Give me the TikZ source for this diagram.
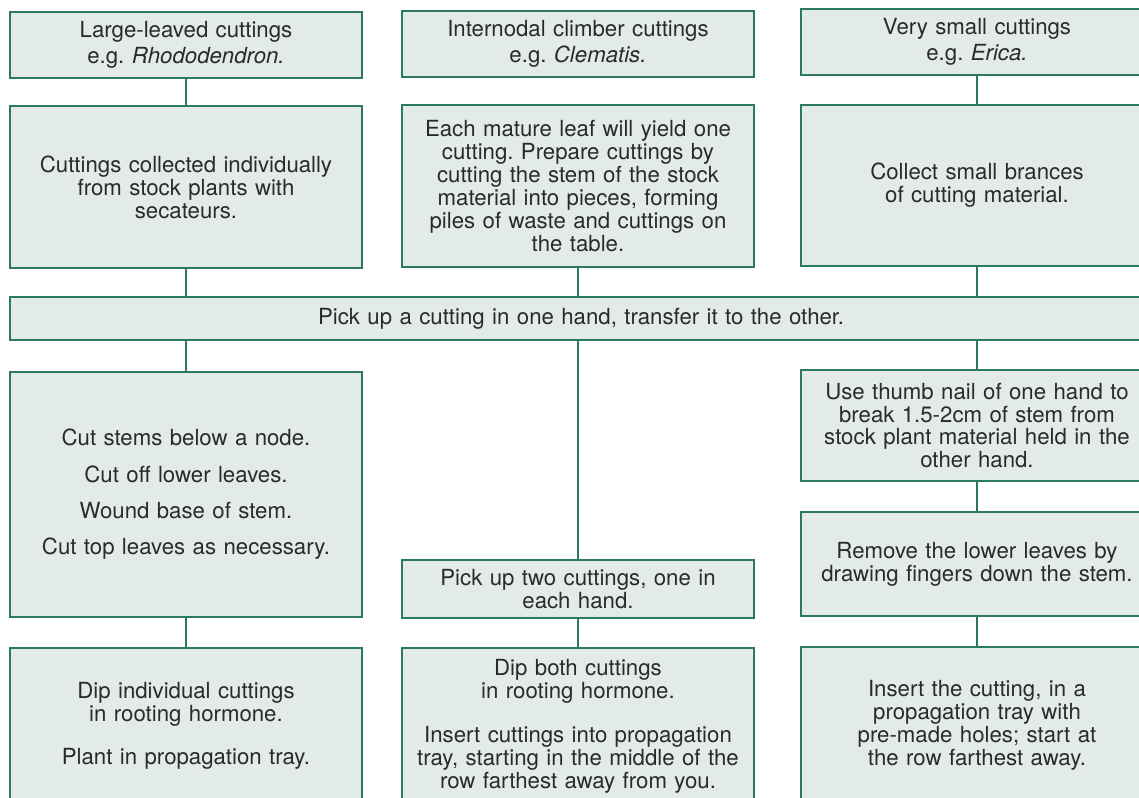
\documentclass[tikz,border=0pt]{standalone}
\usepackage{fontspec}
\setmainfont{TeX Gyre Heros}
\usepackage{tikz}

\definecolor{boxfill}{HTML}{E2EBE8}
\definecolor{boxline}{HTML}{2B7A60}
\definecolor{boxtext}{HTML}{2A2A2A}

\tikzset{
    stage/.style={draw=boxline,fill=boxfill,line width=1pt,minimum width=8.8cm,text width=8.6cm,
        align=center,inner sep=0pt,text=boxtext,font=\fontsize{15.8}{16.3}\selectfont\frenchspacing},
    link/.style={-,draw=boxline,line width=1pt}
}

\begin{document}
\begin{tikzpicture}[x=0.025cm,y=-0.025cm]
        \useasboundingbox (0,0) rectangle (1139,797);
        \clip (0,0) rectangle (1139,797);

        \node[stage,minimum height=1.65cm] (l1) at (186,45) {Large-leaved cuttings\\[2.5pt]e.g. \textit{Rhododendron.}};
        \node[stage,minimum height=4.05cm] (l2) at (186,187) {Cuttings collected individually\\from stock plants with\\secateurs.};
        \node[stage,minimum height=6.125cm] (l3) at (186,494.5) {Cut stems below a node.\\[9.5pt]Cut off lower leaves.\\[9.5pt]Wound base of stem.\\[9.5pt]Cut top leaves as necessary.};
        \node[stage,minimum height=3.9cm] (l4) at (186,726) {Dip individual cuttings\\in rooting hormone.\\[14pt]Plant in propagation tray.};

        \node[stage,minimum height=1.65cm] (m1) at (578,44) {Internodal climber cuttings\\[2.5pt]e.g. \textit{Clematis.}};
        \node[stage,minimum height=4.05cm] (m2) at (578,186) {Each mature leaf will yield one\\cutting. Prepare cuttings by\\cutting the stem of the stock\\material into pieces, forming\\piles of waste and cuttings on\\the table.};
        \node[stage,minimum height=1.45cm] (m3) at (578,589) {Pick up two cuttings, one in\\each hand.};
        \node[stage,minimum height=3.9cm] (m4) at (578,726) {Dip both cuttings\\in rooting hormone.\\[15pt]Insert cuttings into propagation\\tray, starting in the middle of the\\row farthest away from you.};

        \node[stage,minimum height=1.65cm] (s1) at (977,42) {Very small cuttings\\[2.5pt]e.g. \textit{Erica.}};
        \node[stage,minimum height=4.025cm] (s2) at (977,185.5) {Collect small brances\\of cutting material.};
        \node[stage,minimum height=2.775cm] (s3) at (977,425.5) {Use thumb nail of one hand to\\break 1.5-2cm of stem from\\stock plant material held in the\\other hand.};
        \node[stage,minimum height=2.6cm] (s4) at (977,564) {Remove the lower leaves by\\drawing fingers down the stem.};
        \node[stage,minimum height=3.925cm] (s5) at (977,725.5) {Insert the cutting, in a\\propagation tray with\\pre-made holes; start at\\the row farthest away.};

        \node[stage,minimum width=28.55cm,text width=27cm,minimum height=1.075cm] (pick) at (581,318.5) {Pick up a cutting in one hand, transfer it to the other.};

        \path[link] (l1) edge (l2);
        \path[link] (l2) edge (l2 |- pick.north);
        \path[link] (pick.south -| l3) edge (l3);
        \path[link] (l3) edge (l4);

        \path[link] (m2) edge (m2 |- pick.north);
        \path[link] (pick.south -| m3) edge (m3);
        \path[link] (m3) edge (m4);

        \path[link] (s1) edge (s2);
        \path[link] (s2) edge (s2 |- pick.north);
        \path[link] (pick.south -| s3) edge (s3);
        \path[link] (s3) edge (s4);
        \path[link] (s4) edge (s5);

    \end{tikzpicture}
\end{document}
